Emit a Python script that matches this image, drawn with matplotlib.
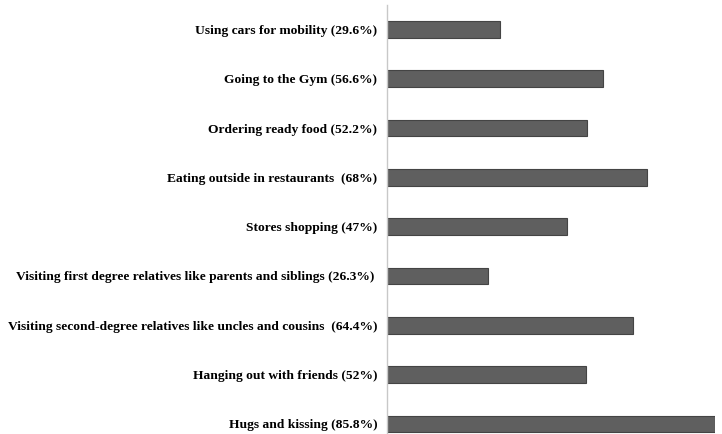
import matplotlib.pyplot as plt

# ---------------- DATA ----------------
LABELS = [
    "Using cars for mobility (29.6%)",
    "Going to the Gym (56.6%)",
    "Ordering ready food (52.2%)",
    "Eating outside in restaurants  (68%)",
    "Stores shopping (47%)",
    "Visiting first degree relatives like parents and siblings (26.3%) ",
    "Visiting second-degree relatives like uncles and cousins  (64.4%)",
    "Hanging out with friends (52%)",
    "Hugs and kissing (85.8%)",
]
VALUES = [29.6, 56.6, 52.2, 68.0, 47.0, 26.3, 64.4, 52.0, 85.8]

# ---------------- PLOT ----------------
W, H = 722, 434
fig = plt.figure(figsize=(W / 100, H / 100), dpi=100)
ax = fig.add_axes([387 / W, 0, (715 - 387) / W, 429 / H])

pos = list(range(len(VALUES)))
ax.barh(pos, VALUES, height=0.34, color="#5f5f5f", edgecolor="#444444", linewidth=0.8)

ax.set_xlim(0, 85.8)
ax.set_ylim(8.205, -0.497)
ax.set_yticks(pos)
ax.set_yticklabels(LABELS, fontfamily="Liberation Serif", fontweight="bold", fontsize=9.7)
ax.tick_params(axis="y", length=0, pad=7)
ax.set_xticks([])

for side in ["top", "right", "bottom"]:
    ax.spines[side].set_visible(False)
ax.spines["left"].set_color("#c8c8c8")
ax.spines["left"].set_linewidth(1.0)

fig.savefig("out.png", dpi=100)
